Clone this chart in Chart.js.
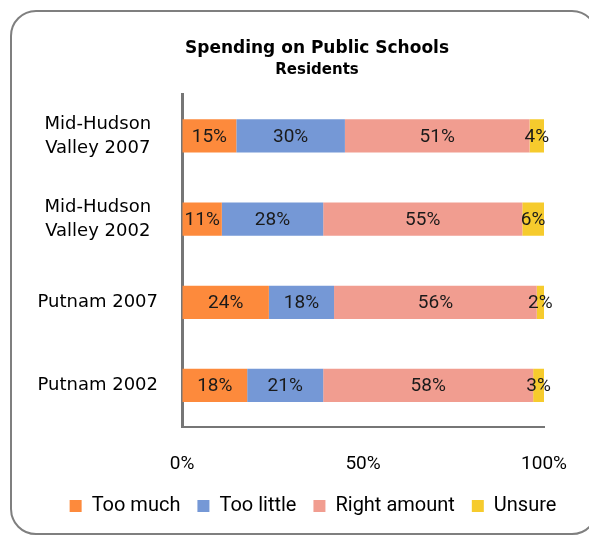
<!DOCTYPE html>
<html>
<head>
<meta charset="utf-8">
<title>Spending on Public Schools</title>
<script src="https://cdn.jsdelivr.net/npm/chart.js@4.4.1/dist/chart.umd.min.js"></script>
<style>
  html, body { margin: 0; padding: 0; background: #fff; }
  #wrap { position: relative; width: 589px; height: 536px; overflow: hidden; }
  #marco { position: absolute; left: 10px; top: 10px; width: 584px; height: 521px;
           border: 2px solid #7f7f7f; border-radius: 26px; pointer-events: none; }
  canvas { position: absolute; left: 0; top: 0; }
</style>
</head>
<body>
<div id="wrap">
  <canvas id="grafico" width="589" height="536"></canvas>
  <div id="marco"></div>
</div>
<script>
// ── DATOS ─────────────────────────────────────────────
const categorias  = [['Mid-Hudson', 'Valley 2007'], ['Mid-Hudson', 'Valley 2002'], 'Putnam 2007', 'Putnam 2002'];
const tooMuch     = [15, 11, 24, 18];
const tooLittle   = [30, 28, 18, 21];
const rightAmount = [51, 55, 56, 58];
const unsure      = [4, 6, 2, 3];
const ticksX      = [0, 50, 100];

// ── ETIQUETAS DENTRO DE LAS BARRAS ────────────────────
const etiquetasBarras = {
  id: 'etiquetasBarras',
  afterDatasetsDraw(chart) {
    const ctx = chart.ctx;
    ctx.save();
    ctx.font = '19px Roboto';
    ctx.fillStyle = '#1a1a1a';
    ctx.textAlign = 'center';
    ctx.textBaseline = 'middle';
    chart.data.datasets.forEach((ds, i) => {
      chart.getDatasetMeta(i).data.forEach((bar, j) => {
        const { x, base, y } = bar.getProps(['x', 'base', 'y'], true);
        ctx.fillText(ds.data[j] + '%', (x + base) / 2, y + 1);
      });
    });
    ctx.restore();
  }
};

// ── CENTRAR TÍTULO Y LEYENDA COMO EN EL ORIGINAL ──────
const centrarCajas = {
  id: 'centrarCajas',
  afterLayout(chart) {
    chart.boxes.filter(b => b.position === 'top' && !b.axis).forEach(b => {
      const d = 317 - (b.left + b.right) / 2;
      b.left += d; b.right += d;
    });
    if (chart.legend) {
      const d = 313 - (chart.legend.left + chart.legend.right) / 2;
      chart.legend.left += d; chart.legend.right += d;
    }
  }
};

// ── GRÁFICO ───────────────────────────────────────────
new Chart(document.getElementById('grafico'), {
  type: 'bar',
  data: {
    labels: categorias,
    datasets: [
      { label: 'Too much',     data: tooMuch,     backgroundColor: '#FD8A3C' },
      { label: 'Too little',   data: tooLittle,   backgroundColor: '#7598D6' },
      { label: 'Right amount', data: rightAmount, backgroundColor: '#F19D90' },
      { label: 'Unsure',       data: unsure,      backgroundColor: '#F6CB2D' },
    ]
  },
  options: {
    indexAxis: 'y',
    responsive: false,
    animation: false,
    devicePixelRatio: 1,
    datasets: { bar: { categoryPercentage: 1, barPercentage: 0.4 } },
    layout: { padding: { left: 0, right: 41, top: 38, bottom: 10 } },
    plugins: {
      title: { display: true, text: 'Spending on Public Schools', color: '#000',
        font: { family: 'DejaVu Sans', size: 17, weight: 'bold' }, padding: { top: 0, bottom: 3 } },
      subtitle: { display: true, text: 'Residents', color: '#000',
        font: { family: 'DejaVu Sans', size: 15, weight: 'bold' }, padding: { top: 0, bottom: 15 } },
      legend: { position: 'bottom',
        labels: { color: '#000', font: { family: 'Roboto', size: 20 }, boxWidth: 12, boxHeight: 12, padding: 17 } },
      tooltip: { enabled: false }
    },
    scales: {
      x: {
        stacked: true, min: 0, max: 100,
        afterBuildTicks: s => { s.ticks = ticksX.map(v => ({ value: v })); },
        afterFit: s => { s.height = 52; },
        grid: { display: true, drawOnChartArea: false, drawTicks: true, tickLength: 4, tickColor: 'rgba(0,0,0,0)' },
        border: { display: true, color: '#767676', width: 2 },
        ticks: { color: '#000', font: { family: 'Roboto', size: 19 }, padding: 22, callback: v => v + '%' }
      },
      y: {
        stacked: true,
        afterFit: s => { s.width = 182; },
        grid: { display: false, drawTicks: false },
        border: { display: true, color: '#767676', width: 3 },
        ticks: { color: '#000', font: { family: 'DejaVu Sans', size: 18, lineHeight: 1.33 },
          crossAlign: 'center', padding: 24 }
      }
    }
  },
  plugins: [etiquetasBarras, centrarCajas]
});
</script>
</body>
</html>
